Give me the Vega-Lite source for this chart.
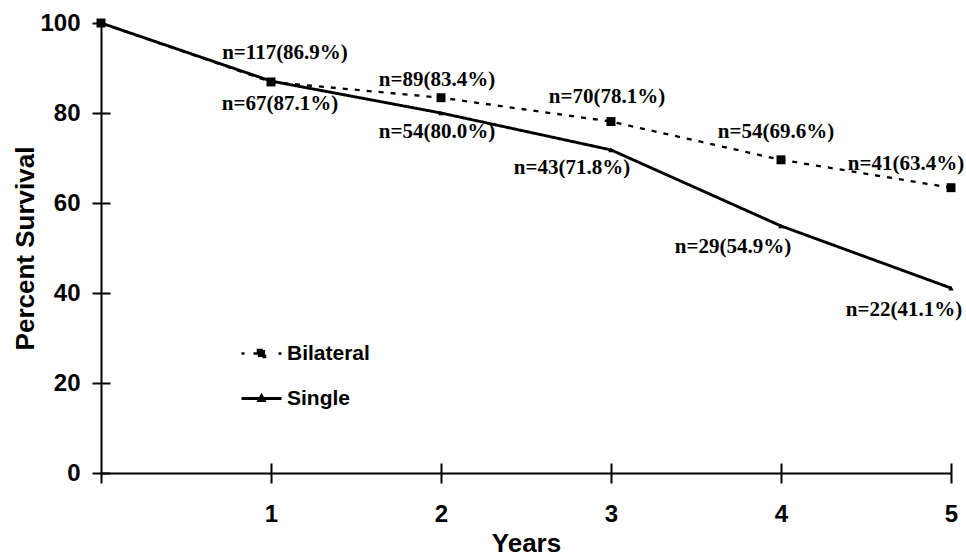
{
  "$schema": "https://vega.github.io/schema/vega-lite/v6.json",
  "autosize": "none",
  "width": 850,
  "height": 450,
  "padding": {"left": 101, "top": 23, "right": 15, "bottom": 86},
  "background": "white",
  "config": {
    "view": {"stroke": null},
    "axis": {"grid": false, "domainColor": "black", "domainWidth": 2, "tickColor": "black", "tickWidth": 2, "labelColor": "black", "titleColor": "black", "labelFont": "Liberation Sans", "titleFont": "Liberation Sans", "labelFontWeight": "bold", "titleFontWeight": "bold", "labelFontSize": 24, "titleFontSize": 26},
    "text": {"font": "Liberation Serif", "fontWeight": "bold", "fontSize": 21, "color": "black", "baseline": "middle", "align": "center"}
  },
  "data": {"values": [
    {"series": "Bilateral", "year": 0, "pct": 100, "label": ""},
    {"series": "Bilateral", "year": 1, "pct": 86.9, "label": "n=117(86.9%)"},
    {"series": "Bilateral", "year": 2, "pct": 83.4, "label": "n=89(83.4%)"},
    {"series": "Bilateral", "year": 3, "pct": 78.1, "label": "n=70(78.1%)"},
    {"series": "Bilateral", "year": 4, "pct": 69.6, "label": "n=54(69.6%)"},
    {"series": "Bilateral", "year": 5, "pct": 63.4, "label": "n=41(63.4%)"},
    {"series": "Single", "year": 0, "pct": 100, "label": ""},
    {"series": "Single", "year": 1, "pct": 87.1, "label": "n=67(87.1%)"},
    {"series": "Single", "year": 2, "pct": 80.0, "label": "n=54(80.0%)"},
    {"series": "Single", "year": 3, "pct": 71.8, "label": "n=43(71.8%)"},
    {"series": "Single", "year": 4, "pct": 54.9, "label": "n=29(54.9%)"},
    {"series": "Single", "year": 5, "pct": 41.1, "label": "n=22(41.1%)"}
  ]},
  "resolve": {"axis": {"x": "independent", "y": "independent"}},
  "layer": [
    {
      "mark": {"type": "line", "color": "black"},
      "encoding": {
        "x": {"field": "year", "type": "quantitative", "scale": {"domain": [0, 5], "nice": false, "zero": false},
          "axis": {"orient": "bottom", "values": [0, 1, 2, 3, 4, 5], "labelExpr": "datum.value == 0 ? '' : datum.label", "title": "Years", "tickSize": 10, "labelPadding": 19, "titlePadding": 4, "labelFlush": false}},
        "y": {"field": "pct", "type": "quantitative", "scale": {"domain": [0, 100], "nice": false},
          "axis": {"orient": "left", "values": [0, 20, 40, 60, 80, 100], "title": "Percent Survival", "tickSize": 9, "labelPadding": 12, "titlePadding": 1}},
        "strokeDash": {"field": "series", "type": "nominal",
          "scale": {"domain": ["Bilateral", "Single"], "range": [[5, 7], [1, 0]]},
          "legend": {"title": null, "orient": "none", "legendX": 139, "legendY": 309, "padding": 0,
            "symbolType": "stroke", "symbolSize": 1600, "symbolStrokeWidth": 2, "symbolStrokeColor": "black", "rowPadding": 13, "labelOffset": 4,
            "labelFont": "Liberation Sans", "labelFontWeight": "bold", "labelFontSize": 21, "labelColor": "black",
            "encode": {"symbols": {"update": {
              "shape": {"signal": "datum.value === 'Bilateral' ? 'M-1,0H-0.85M-0.4,0H-0.18M0.85,0H1M-0.18,-0.18H0.18V0.18H-0.18Z' : 'M-1,0H1M-0.13,0.1L0,-0.14L0.13,0.1Z'"},
              "fill": {"value": "black"},
              "stroke": {"value": "black"},
              "strokeDash": {"value": [1, 0]},
              "strokeWidth": {"value": 2}
            }}}}
        },
        "strokeWidth": {"field": "series", "type": "nominal", "scale": {"domain": ["Bilateral", "Single"], "range": [2.3, 2.9]}, "legend": null}
      }
    },
    {
      "transform": [{"filter": "datum.series === 'Single'"}],
      "mark": {"type": "point", "filled": true, "color": "black", "opacity": 1, "shape": "triangle-up", "size": 30},
      "encoding": {
        "x": {"field": "year", "type": "quantitative",
          "axis": {"orient": "top", "offset": -450, "values": [1, 2, 3, 4, 5], "title": null, "labels": false, "domain": false, "tickSize": 10}},
        "y": {"field": "pct", "type": "quantitative",
          "axis": {"orient": "right", "offset": -850, "values": [0, 20, 40, 60, 80], "title": null, "labels": false, "domain": false, "tickSize": 9}}
      }
    },
    {
      "transform": [{"filter": "datum.series === 'Bilateral'"}],
      "mark": {"type": "point", "filled": true, "color": "black", "opacity": 1, "shape": "square", "size": 80},
      "encoding": {
        "x": {"field": "year", "type": "quantitative", "axis": null},
        "y": {"field": "pct", "type": "quantitative", "axis": null}
      }
    },
    {"transform": [{"filter": "datum.series === 'Bilateral' && datum.year === 1"}], "mark": {"type": "text", "dx": 14, "dy": -29}, "encoding": {"x": {"field": "year", "type": "quantitative", "axis": null}, "y": {"field": "pct", "type": "quantitative", "axis": null}, "text": {"field": "label"}}},
    {"transform": [{"filter": "datum.series === 'Bilateral' && datum.year === 2"}], "mark": {"type": "text", "dx": -4, "dy": -18}, "encoding": {"x": {"field": "year", "type": "quantitative", "axis": null}, "y": {"field": "pct", "type": "quantitative", "axis": null}, "text": {"field": "label"}}},
    {"transform": [{"filter": "datum.series === 'Bilateral' && datum.year === 3"}], "mark": {"type": "text", "dx": -4, "dy": -25}, "encoding": {"x": {"field": "year", "type": "quantitative", "axis": null}, "y": {"field": "pct", "type": "quantitative", "axis": null}, "text": {"field": "label"}}},
    {"transform": [{"filter": "datum.series === 'Bilateral' && datum.year === 4"}], "mark": {"type": "text", "dx": -5, "dy": -28}, "encoding": {"x": {"field": "year", "type": "quantitative", "axis": null}, "y": {"field": "pct", "type": "quantitative", "axis": null}, "text": {"field": "label"}}},
    {"transform": [{"filter": "datum.series === 'Bilateral' && datum.year === 5"}], "mark": {"type": "text", "dx": -45, "dy": -24}, "encoding": {"x": {"field": "year", "type": "quantitative", "axis": null}, "y": {"field": "pct", "type": "quantitative", "axis": null}, "text": {"field": "label"}}},
    {"transform": [{"filter": "datum.series === 'Single' && datum.year === 1"}], "mark": {"type": "text", "dx": 9, "dy": 23}, "encoding": {"x": {"field": "year", "type": "quantitative", "axis": null}, "y": {"field": "pct", "type": "quantitative", "axis": null}, "text": {"field": "label"}}},
    {"transform": [{"filter": "datum.series === 'Single' && datum.year === 2"}], "mark": {"type": "text", "dx": -4, "dy": 19}, "encoding": {"x": {"field": "year", "type": "quantitative", "axis": null}, "y": {"field": "pct", "type": "quantitative", "axis": null}, "text": {"field": "label"}}},
    {"transform": [{"filter": "datum.series === 'Single' && datum.year === 3"}], "mark": {"type": "text", "dx": -39, "dy": 18}, "encoding": {"x": {"field": "year", "type": "quantitative", "axis": null}, "y": {"field": "pct", "type": "quantitative", "axis": null}, "text": {"field": "label"}}},
    {"transform": [{"filter": "datum.series === 'Single' && datum.year === 4"}], "mark": {"type": "text", "dx": -48, "dy": 21}, "encoding": {"x": {"field": "year", "type": "quantitative", "axis": null}, "y": {"field": "pct", "type": "quantitative", "axis": null}, "text": {"field": "label"}}},
    {"transform": [{"filter": "datum.series === 'Single' && datum.year === 5"}], "mark": {"type": "text", "dx": -47, "dy": 22}, "encoding": {"x": {"field": "year", "type": "quantitative", "axis": null}, "y": {"field": "pct", "type": "quantitative", "axis": null}, "text": {"field": "label"}}}
  ]
}
